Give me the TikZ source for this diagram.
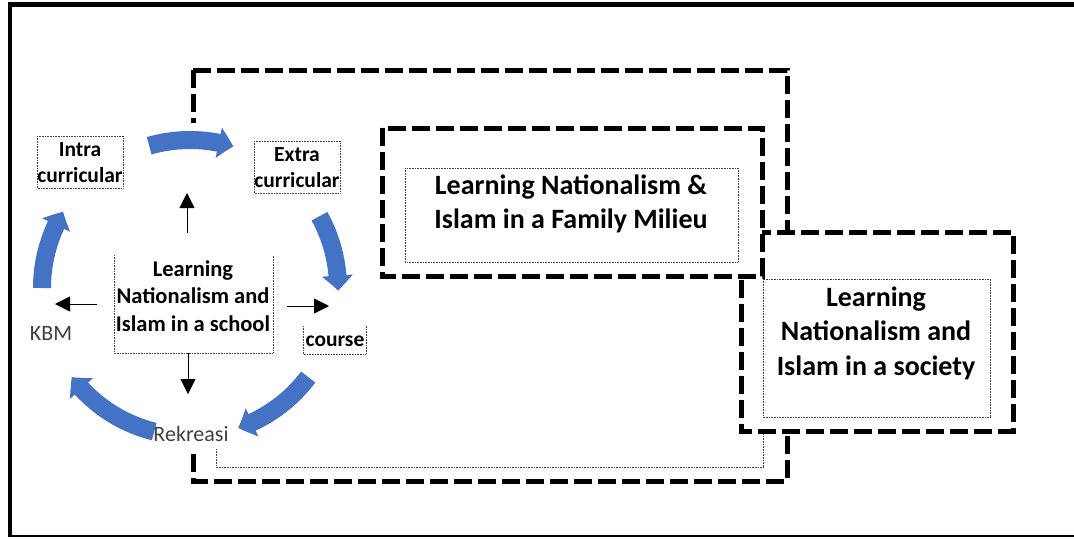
\documentclass[tikz,border=0pt]{standalone}
\usepackage{fontspec}
\setmainfont{Carlito}
\usetikzlibrary{arrows.meta,bending,calc}
\definecolor{offblue}{HTML}{4472C4}
\definecolor{txtgray}{HTML}{404040}
\begin{document}
\begin{tikzpicture}[x=1pt,y=-1pt,
  thickdash/.style={line width=5pt, dash pattern=on 18pt off 6pt, line cap=butt},
  dotline/.style={line width=0.7pt, dash pattern=on 0.8pt off 0.8pt, draw=black!75},
  cyc/.style={draw=offblue, line width=18pt, line cap=butt, -{Triangle[width=30pt,length=15pt,bend]}},
  blk/.style={line width=0.8pt, -{Triangle[width=15pt,length=15pt]}},
  bigtxt/.style={font=\bfseries\fontsize{28}{34.5}\selectfont, align=center, inner sep=0pt},
  midtxt/.style={font=\bfseries\fontsize{22.5}{27.5}\selectfont, align=center, inner sep=0pt},
  smalltxt/.style={font=\bfseries\fontsize{21.5}{26}\selectfont, align=center, inner sep=0pt},
  graytxt/.style={font=\fontsize{22}{26}\selectfont, text=txtgray, inner sep=0pt}
]
\useasboundingbox (0,0) rectangle (1074,539);
% frame
\draw[line width=5pt] (1074,4) -- (10,4);
\draw[line width=3.5pt] (10,2) -- (10,537);
\draw[line width=2pt] (9,536) -- (1074,536);

% big dashed rectangle
\draw[thickdash] (193,70) rectangle (787,481);
% inner dotted of big rectangle (visible part)
\draw[dotline] (216,449) -- (216,467) -- (763,467) -- (763,430);

% society box
\draw[thickdash, fill=white] (741,232) rectangle (1013,431);
\draw[dotline] (763,279) rectangle (990,417);
\node[bigtxt] (society) at (876,333) {Learning\\Nationalism and\\Islam in a society};

% family box
\draw[thickdash, fill=white] (382,128) rectangle (762,276);
\draw[dotline] (405,168) rectangle (738,262);
\node[bigtxt] (family) at (571,204) {Learning Nationalism \&\\Islam in a Family Milieu};

% school cycle graphic background
\fill[white] (20,123) rectangle (378,449);

% dotted boxes
\draw[dotline] (37,136) rectangle (123,188);
\draw[dotline] (254,141) rectangle (340,193);
\draw[dotline] (114,255) -- (114,353) -- (273,353) -- (273,255);
\draw[dotline] (303,326) -- (303,354) -- (366,354) -- (366,326);

\node[smalltxt] (intra) at (80,163) {Intra\\curricular};
\node[smalltxt] (extra) at (297,168) {Extra\\curricular};
\node[midtxt] (school) at (193,296) {Learning\\Nationalism and\\Islam in a school};
\node[smalltxt] (course) at (335,341) {course};
\node[graytxt] (kbm) at (51,333) {KBM};
\node[graytxt] (rek) at (191,434) {Rekreasi};

% black arrows
\coordinate (upA) at (187,233);
\coordinate (upB) at (187,193);
\coordinate (dnA) at (188,353);
\coordinate (dnB) at (188,394);
\coordinate (lfA) at (97,304);
\coordinate (lfB) at (55,304);
\coordinate (rtA) at (287,306);
\coordinate (rtB) at (329,306);
\draw[blk] (upA) -- (upB);
\draw[blk] (dnA) -- (dnB);
\draw[blk] (lfA) -- (lfB);
\draw[blk] (rtA) -- (rtB);

% blue cycle arrows
\coordinate (c) at (190,288);
\draw[cyc] ($(c)+(-106:148)$) arc[start angle=-106, end angle=-73, radius=148];
\draw[cyc] ($(c)+(-29:148)$) arc[start angle=-29, end angle=1, radius=148];
\draw[cyc] ($(c)+(37:148)$) arc[start angle=37, end angle=71, radius=148];
\draw[cyc] ($(c)+(104:148)$) arc[start angle=104, end angle=143, radius=148];
\draw[cyc] ($(c)+(180:148)$) arc[start angle=180, end angle=211, radius=148];
\end{tikzpicture}
\end{document}
